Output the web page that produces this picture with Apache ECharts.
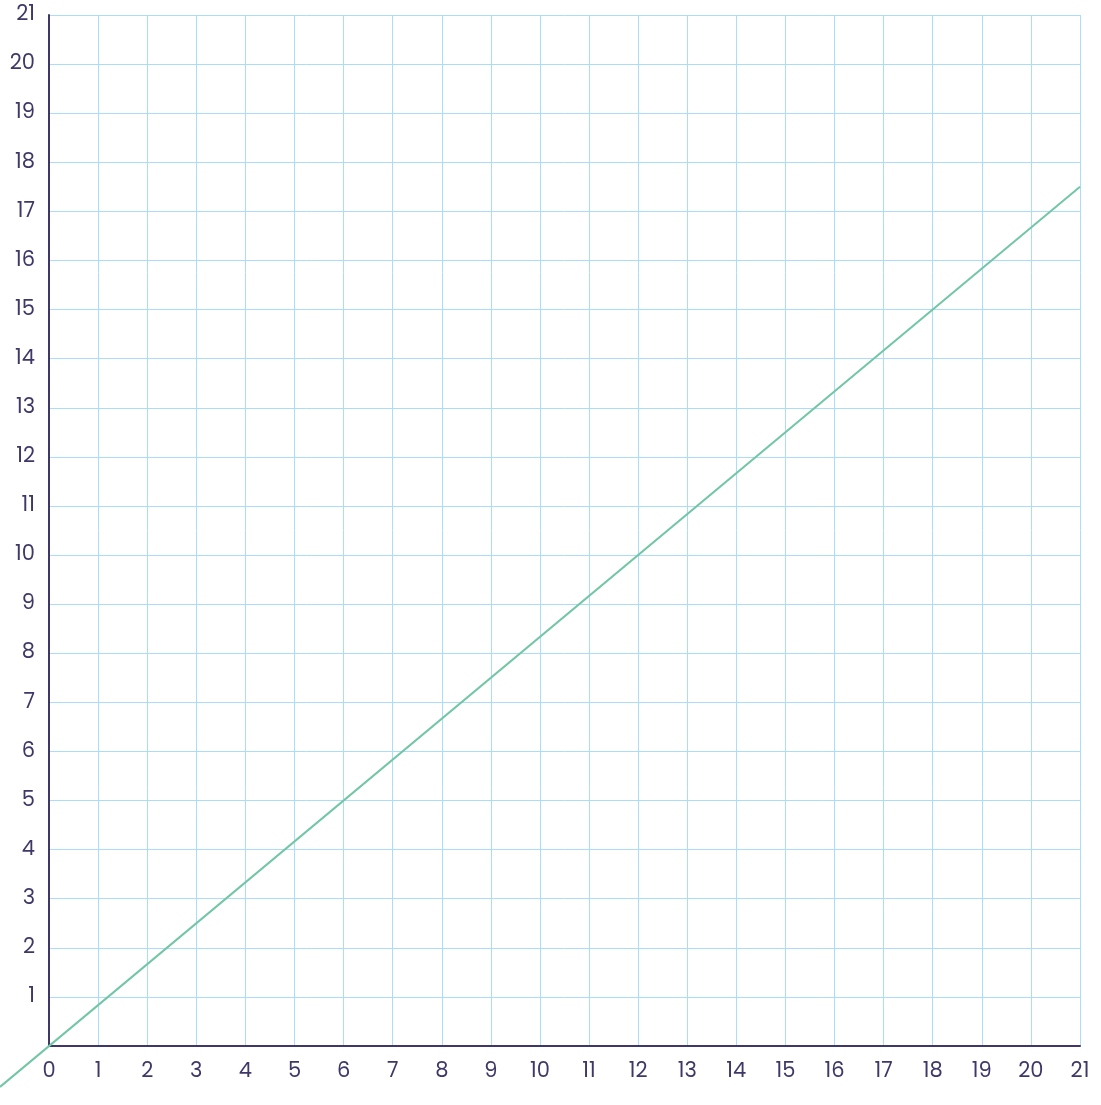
<!DOCTYPE html>
<html><head><meta charset="utf-8">
<script src="https://cdn.jsdelivr.net/npm/echarts@6/dist/echarts.min.js"></script>
<style>html,body{margin:0;padding:0;background:#fff}#c{width:1101px;height:1105px}</style>
</head><body><div id="c"></div>
<script>
var xTicks = [0,1,2,3,4,5,6,7,8,9,10,11,12,13,14,15,16,17,18,19,20,21];
var yTicks = [0,1,2,3,4,5,6,7,8,9,10,11,12,13,14,15,16,17,18,19,20,21];
var lineX = [-1, 21];
var lineY = [-0.8333, 17.5];

var W = 1101, H = 1105;
var gLeft = 49, gRight = 21, gTop = 15, gBottom = 59;
var xMin = 0, xMax = 21, yMin = 0, yMax = 21;
var pxPerX = (W - gLeft - gRight) / (xMax - xMin);
var pxPerY = (H - gTop - gBottom) / (yMax - yMin);
// second (hidden) grid extended so the line may run past the axes
var x2Min = Math.min(xMin, lineX[0]);
var y2Min = Math.min(yMin, lineY[0]);
var g2Left = gLeft - (xMin - x2Min) * pxPerX;
var g2Bottom = gBottom - (yMin - y2Min) * pxPerY;

var chart = echarts.init(document.getElementById('c'), null, {renderer:'canvas'});
var axisColor = '#3f3768';
var gridColor = '#a9ddf9';
var font = 'Poppins, Inter, Open Sans, sans-serif';
chart.setOption({
  animation: false,
  grid: [
    {left: gLeft, right: gRight, top: gTop, bottom: gBottom, containLabel: false},
    {left: g2Left, right: gRight, top: gTop, bottom: g2Bottom, containLabel: false}
  ],
  xAxis: [{
    type: 'value', min: xMin, max: xMax, interval: 1, gridIndex: 0,
    axisLine: {show: true, onZero: false, lineStyle: {color: axisColor, width: 2}},
    axisTick: {show: false},
    axisLabel: {color: axisColor, fontSize: 21, fontFamily: font, margin: 15},
    splitLine: {show: true, lineStyle: {color: gridColor, width: 1}}
  }, {
    type: 'value', min: x2Min, max: xMax, gridIndex: 1, show: false
  }],
  yAxis: [{
    type: 'value', min: yMin, max: yMax, interval: 1, gridIndex: 0,
    axisLine: {show: true, onZero: false, lineStyle: {color: axisColor, width: 2}},
    axisTick: {show: false},
    axisLabel: {color: axisColor, fontSize: 21, fontFamily: font, margin: 14,
      formatter: function(v){ return v === 0 ? '' : String(v); }},
    splitLine: {show: true, lineStyle: {color: gridColor, width: 1}}
  }, {
    type: 'value', min: y2Min, max: yMax, gridIndex: 1, show: false
  }],
  series: [{
    type: 'line',
    xAxisIndex: 1, yAxisIndex: 1,
    data: lineX.map(function(x,i){return [x, lineY[i]];}),
    clip: false,
    symbol: 'none',
    lineStyle: {color: '#72c6a5', width: 2},
    z: 1
  }]
});
</script></body></html>
